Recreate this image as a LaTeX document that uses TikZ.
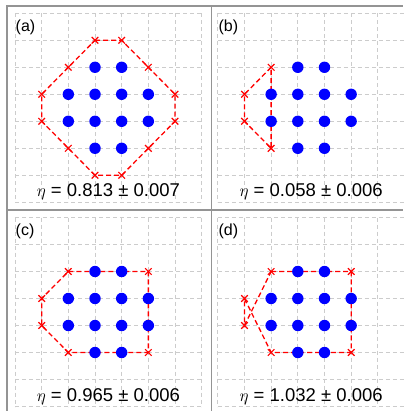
\documentclass[tikz,border=0pt]{standalone}
\usepackage{fontspec}
\setmainfont{Liberation Sans}
\usetikzlibrary{shapes.misc}
\definecolor{framegray}{gray}{0.58}
\definecolor{gridgray}{gray}{0.80}
\tikzset{
  frameline/.style={framegray, line width=1.2pt},
  gridline/.style={gridgray, line width=0.7pt, dash pattern=on 4pt off 3pt},
  hull/.style={red, line width=1.3pt, dash pattern=on 5pt off 3pt},
  xmark/.style={cross out, draw=red, line width=1.2pt, minimum size=5.4pt, inner sep=0pt},
  site/.style={circle, fill=blue, minimum size=11.4pt, inner sep=0pt},
  tag/.style={anchor=west, inner sep=0pt, font=\fontsize{16}{18}\selectfont},
  eta/.style={anchor=base, inner sep=0pt, font=\fontsize{18.5}{22}\selectfont}
}
% dashed 7x7 grid of one panel
\newcommand{\panelgrid}{%
  \foreach \k in {0,...,7} {
    \draw[gridline] (\k,0) -- (\k,7);
    \draw[gridline] (0,\k) -- (7,\k);
  }%
}
% sites, panel tag and efficiency
\newcommand{\panelsites}[2]{%
  \foreach \x/\y in {3/2,4/2,2/3,3/3,4/3,5/3,2/4,3/4,4/4,5/4,3/5,4/5}
    \node[site] (#1s\x\y) at (\x,\y) {};
  \node[tag] (#1tag) at (0.02,0.53) {(#1)};
  \node[eta] (#1eta) at (3.5,6.8) {$\eta$ = #2};
}

\begin{document}
\begin{tikzpicture}[x=1pt,y=-1pt]
\useasboundingbox (0,0) rectangle (403,411);

\draw[frameline] (7,411) -- (7,6) -- (403,6);
\draw[frameline] (211.7,6) -- (211.7,411);
\draw[frameline] (7,210) -- (403,210);

% (a)
\begin{scope}[shift={(15,13.3)}, x=26.67pt, y=-27pt]
  \panelgrid
  \foreach \n/\x/\y in {1/3/1,2/4/1,3/5/2,4/6/3,5/6/4,6/5/5,7/4/6,8/3/6,9/2/5,10/1/4,11/1/3,12/2/2}
    \node[xmark] (a\n) at (\x,\y) {};
  \draw[hull] (a1.center) -- (a2.center) -- (a3.center) -- (a4.center) -- (a5.center) -- (a6.center)
    -- (a7.center) -- (a8.center) -- (a9.center) -- (a10.center) -- (a11.center) -- (a12.center) -- cycle;
  \panelsites{a}{0.813 ± 0.007}
\end{scope}

% (b)
\begin{scope}[shift={(217.8,13.3)}, x=26.67pt, y=-27pt]
  \panelgrid
  \foreach \n/\x/\y in {1/2/2,2/1/3,3/1/4,4/2/5}
    \node[xmark] (b\n) at (\x,\y) {};
  \draw[hull] (b1.center) -- (b2.center) -- (b3.center) -- (b4.center) -- cycle;
  \panelsites{b}{0.058 ± 0.006}
\end{scope}

% (c)
\begin{scope}[shift={(15,217.5)}, x=26.67pt, y=-27pt]
  \panelgrid
  \foreach \n/\x/\y in {1/2/2,2/5/2,3/5/5,4/2/5,5/1/4,6/1/3}
    \node[xmark] (c\n) at (\x,\y) {};
  \draw[hull] (c1.center) -- (c2.center) -- (c3.center) -- (c4.center) -- (c5.center) -- (c6.center) -- cycle;
  \panelsites{c}{0.965 ± 0.006}
\end{scope}

% (d)
\begin{scope}[shift={(217.8,217.5)}, x=26.67pt, y=-27pt]
  \panelgrid
  \foreach \n/\x/\y in {1/2/2,2/5/2,3/5/5,4/2/5,5/1/3,6/1/4}
    \node[xmark] (d\n) at (\x,\y) {};
  \draw[hull] (d1.center) -- (d2.center) -- (d3.center) -- (d4.center) -- (d5.center) -- (d6.center) -- cycle;
  \panelsites{d}{1.032 ± 0.006}
\end{scope}
\end{tikzpicture}
\end{document}
